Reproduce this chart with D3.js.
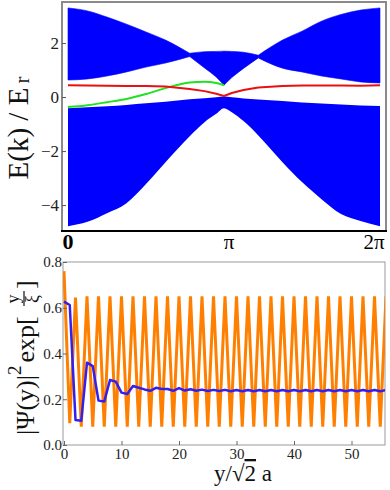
<!DOCTYPE html>
<html>
<head>
<meta charset="utf-8">
<script src="https://cdn.jsdelivr.net/npm/d3@7"></script>
<style>
  body { margin: 0; background: #fff; }
  svg { display: block; font-family: "Liberation Serif", "Times New Roman", serif; }
</style>
</head>
<body>
<div id="chart"></div>
<script>
// ---- top panel: band structure, k in units of pi ----
const kGrid       = [0, 0.125, 0.25, 0.375, 0.5, 0.625, 0.78, 0.875, 0.95, 1, 1.05, 1.125, 1.22, 1.375, 1.5, 1.625, 1.75, 1.875, 2];
const lowerBottom = [-4.78, -4.62, -4.30, -3.93, -3.22, -2.41, -1.45, -0.93, -0.62, -0.41, -0.56, -0.89, -1.42, -2.41, -3.15, -3.78, -4.33, -4.59, -4.78];
const lowerTop    = [-0.41, -0.38, -0.34, -0.29, -0.23, -0.17, -0.08, -0.04, -0.01, 0.02, -0.01, -0.05, -0.09, -0.15, -0.20, -0.24, -0.28, -0.31, -0.33];
const upperBottom = [0.63, 0.67, 0.78, 0.93, 1.11, 1.26, 1.50, 1.08, 0.74, 0.44, 0.72, 1.06, 1.45, 1.07, 0.93, 0.78, 0.67, 0.56, 0.52];
const upperTop    = [3.30, 3.19, 2.96, 2.70, 2.41, 2.11, 1.62, 1.68, 1.69, 1.70, 1.69, 1.66, 1.55, 2.11, 2.44, 2.81, 3.06, 3.22, 3.30];
const redBranch   = [0.44, 0.43, 0.42, 0.41, 0.41, 0.39, 0.30, 0.22, 0.12, 0.04, 0.15, 0.26, 0.35, 0.41, 0.43, 0.43, 0.43, 0.42, 0.44];
const greenBranch = [-0.37, -0.30, -0.19, -0.07, 0.11, 0.33, 0.54, 0.57, 0.52, 0.44];
const upperKinks  = [0, 6, 9, 12, 18];   // grid indices where the upper band has crossings / cusp
const energyTicks = [-4, -2, 0, 2];
const kTickLabels = ["0", "π", "2π"];

// ---- bottom panel: |psi|^2 exp(y/xi) per site ----
const orangeVals = [0.76, 0.095, 0.645,
  0.08, 0.65, 0.08, 0.65, 0.08, 0.65, 0.08, 0.65, 0.08, 0.65, 0.08, 0.65, 0.08, 0.65, 0.08, 0.65,
  0.08, 0.65, 0.08, 0.65, 0.08, 0.65, 0.08, 0.65, 0.08, 0.65, 0.08, 0.65, 0.08, 0.65, 0.08, 0.65,
  0.08, 0.65, 0.08, 0.65, 0.08, 0.65, 0.08, 0.65, 0.08, 0.65, 0.08, 0.65, 0.08, 0.65, 0.08, 0.65,
  0.08, 0.65, 0.08, 0.65, 0.08, 0.65];
const blueVals = [0.627, 0.612, 0.109, 0.106, 0.360, 0.345, 0.194, 0.190, 0.284, 0.277,
  0.229, 0.223, 0.258, 0.250, 0.243, 0.237, 0.250, 0.245, 0.245, 0.237,
  0.249, 0.238, 0.244, 0.237, 0.242, 0.236, 0.241, 0.236, 0.241, 0.235,
  0.240, 0.235, 0.240, 0.235, 0.240, 0.235, 0.240, 0.235, 0.240, 0.235,
  0.240, 0.235, 0.240, 0.235, 0.240, 0.235, 0.240, 0.235, 0.240, 0.235,
  0.240, 0.235, 0.240, 0.235, 0.240, 0.235, 0.240];
const psiTicks  = [0, 0.2, 0.4, 0.6, 0.8];
const siteTicks = [0, 10, 20, 30, 40, 50];

const W = 390, H = 490;
const svg = d3.select("#chart").append("svg").attr("width", W).attr("height", H);

// ================= top panel =================
const topBox = {left: 62, right: 386, top: 2, bottom: 231};
const kx = d3.scaleLinear().domain([0, 2]).range([68, 380]);
const ey = d3.scaleLinear().domain([-4.96, 3.52]).range([topBox.bottom, topBox.top]);

svg.append("clipPath").attr("id", "clipTop").append("rect")
    .attr("x", topBox.left).attr("y", topBox.top)
    .attr("width", topBox.right - topBox.left).attr("height", topBox.bottom - topBox.top);

const gTop = svg.append("g").attr("clip-path", "url(#clipTop)");

const band = (lo, hi) => d3.area()
    .x(i => kx(kGrid[i]))
    .y0(i => ey(lo[i]))
    .y1(i => ey(hi[i]))
    .curve(d3.curveMonotoneX);

gTop.append("path").attr("d", band(lowerBottom, lowerTop)(d3.range(kGrid.length)))
    .attr("fill", "#0000ff");

// upper band drawn piecewise so the crossings stay sharp
for (let s = 0; s < upperKinks.length - 1; s++) {
    gTop.append("path")
        .attr("d", band(upperBottom, upperTop)(d3.range(upperKinks[s], upperKinks[s + 1] + 1)))
        .attr("fill", "#0000ff").attr("stroke", "#0000ff").attr("stroke-width", 0.6);
}

gTop.append("path")
    .attr("d", d3.line().x((d, i) => kx(kGrid[i])).y(d => ey(d)).curve(d3.curveMonotoneX)(greenBranch))
    .attr("fill", "none").attr("stroke", "#22e022").attr("stroke-width", 2);

gTop.append("path")
    .attr("d", d3.line().x((d, i) => kx(kGrid[i])).y(d => ey(d)).curve(d3.curveLinear)(redBranch))
    .attr("fill", "none").attr("stroke", "#e81010").attr("stroke-width", 2)
    .attr("stroke-linejoin", "round");

// frame: grey on three sides, black along the bottom
svg.append("path")
    .attr("d", `M${topBox.left},${topBox.bottom}V${topBox.top}H${topBox.right}V${topBox.bottom}`)
    .attr("fill", "none").attr("stroke", "#8a8a8a").attr("stroke-width", 2);
svg.append("line")
    .attr("x1", topBox.left - 1).attr("x2", topBox.right + 1)
    .attr("y1", topBox.bottom).attr("y2", topBox.bottom)
    .attr("stroke", "#000").attr("stroke-width", 2);

const eAxis = svg.append("g")
    .attr("transform", `translate(${topBox.left},0)`)
    .call(d3.axisLeft(ey).tickValues(energyTicks).tickSize(-4).tickPadding(3)
        .tickFormat(d => (d < 0 ? "\u2212" : "") + Math.abs(d)));
eAxis.select(".domain").remove();
eAxis.selectAll("line").attr("stroke", "#555");
eAxis.selectAll("text").attr("font-size", 17).attr("font-family", "Liberation Serif").attr("fill", "#222");

// k labels under the top panel
const kLabelX = [kx(0), kx(1) + 5, kx(2) - 6];
svg.selectAll(".klabel").data(kTickLabels).enter().append("text")
    .attr("class", "klabel")
    .attr("x", (d, i) => kLabelX[i])
    .attr("y", 249)
    .attr("text-anchor", "middle")
    .attr("font-size", (d, i) => i === 0 ? 22 : 21)
    .attr("font-weight", (d, i) => i === 0 ? "bold" : "normal")
    .attr("fill", "#000")
    .text(d => d);

const eLabel = svg.append("text")
    .attr("transform", "translate(28,128) rotate(-90)")
    .attr("text-anchor", "middle")
    .attr("font-size", 29)
    .attr("fill", "#111");
eLabel.append("tspan").text("E(k) / E");
eLabel.append("tspan").attr("font-size", 21).attr("dx", 4).attr("dy", 1).text("r");

// ================= bottom panel =================
const botBox = {left: 63, right: 385, top: 262, bottom: 445};
const sx = d3.scaleLinear().domain([0, 56]).range([64, 386]);
const py = d3.scaleLinear().domain([0, 0.8]).range([botBox.bottom, botBox.top]);

svg.append("clipPath").attr("id", "clipBot").append("rect")
    .attr("x", botBox.left).attr("y", botBox.top)
    .attr("width", botBox.right - botBox.left).attr("height", botBox.bottom - botBox.top);

svg.append("rect")
    .attr("x", botBox.left).attr("y", botBox.top)
    .attr("width", botBox.right - botBox.left).attr("height", botBox.bottom - botBox.top)
    .attr("fill", "none").attr("stroke", "#999").attr("stroke-width", 1);

const gBot = svg.append("g").attr("clip-path", "url(#clipBot)");
const siteLine = d3.line().x((d, i) => sx(i)).y(d => py(d));

gBot.append("path").attr("d", siteLine(orangeVals))
    .attr("fill", "none").attr("stroke", "#ff8000").attr("stroke-width", 3)
    .attr("stroke-linejoin", "miter").attr("stroke-miterlimit", 4);
gBot.append("path").attr("d", siteLine(blueVals))
    .attr("fill", "none").attr("stroke", "#3320f0").attr("stroke-width", 2.5)
    .attr("stroke-linejoin", "round");

const sAxis = svg.append("g")
    .attr("transform", `translate(0,${botBox.bottom})`)
    .call(d3.axisBottom(sx).tickValues(siteTicks).tickSize(-4).tickPadding(3));
sAxis.select(".domain").remove();
sAxis.selectAll("line").attr("stroke", "#666");
sAxis.selectAll("text").attr("font-size", 15).attr("font-family", "Liberation Serif").attr("fill", "#222");

const pAxis = svg.append("g")
    .attr("transform", `translate(${botBox.left},0)`)
    .call(d3.axisLeft(py).tickValues(psiTicks).tickSize(-4).tickPadding(1).tickFormat(d3.format(".1f")));
pAxis.select(".domain").remove();
pAxis.selectAll("line").attr("stroke", "#666");
pAxis.selectAll("text").attr("font-size", 15).attr("font-family", "Liberation Serif").attr("fill", "#222");

// x label  y/sqrt(2) a
const sLabel = svg.append("text")
    .attr("x", 243).attr("y", 481)
    .attr("text-anchor", "middle")
    .attr("font-size", 23)
    .attr("fill", "#111");
sLabel.append("tspan").text("y/\u221A");
sLabel.append("tspan").attr("text-decoration", "overline").text("2");
sLabel.append("tspan").text(" a");

// y label |Psi(y)|^2 exp[y/xi]
const pl = svg.append("g").attr("transform", "translate(34,435) rotate(-90)").attr("fill", "#111");
const plMain = pl.append("text").attr("x", 0).attr("y", 0).attr("font-size", 26);
plMain.append("tspan").text("|\u03A8(y)|");
plMain.append("tspan").attr("font-size", 19).attr("dy", -13).text("2");
plMain.append("tspan").attr("dy", 13).attr("dx", 3).text("exp[");
pl.append("text").attr("x", 136).attr("y", -15).attr("text-anchor", "middle").attr("font-size", 18).text("y");
pl.append("line").attr("x1", 129).attr("x2", 144).attr("y1", -10).attr("y2", -10)
    .attr("stroke", "#111").attr("stroke-width", 1.2);
pl.append("text").attr("x", 136).attr("y", 4).attr("text-anchor", "middle").attr("font-size", 18).text("\u03BE");
pl.append("text").attr("x", 146).attr("y", 0).attr("font-size", 26).text("]");
</script>
</body>
</html>
